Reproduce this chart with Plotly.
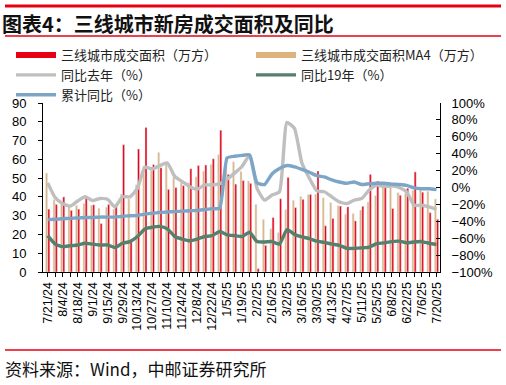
import plotly.graph_objects as go

weeks = ["7/21/24", "7/28/24", "8/4/24", "8/11/24", "8/18/24", "8/25/24", "9/1/24", "9/8/24",
         "9/15/24", "9/22/24", "9/29/24", "10/6/24", "10/13/24", "10/20/24", "10/27/24", "11/3/24",
         "11/10/24", "11/17/24", "11/24/24", "12/1/24", "12/8/24", "12/15/24", "12/22/24", "12/29/24",
         "1/5/25", "1/12/25", "1/19/25", "1/26/25", "2/2/25", "2/9/25", "2/16/25", "2/23/25",
         "3/2/25", "3/9/25", "3/16/25", "3/23/25", "3/30/25", "4/6/25", "4/13/25", "4/20/25",
         "4/27/25", "5/4/25", "5/11/25", "5/18/25", "5/25/25", "6/1/25", "6/8/25", "6/15/25",
         "6/22/25", "6/29/25", "7/6/25", "7/13/25", "7/20/25"]

area = [33.5, 36, 40, 32.8, 33.5, 40, 35.8, 25.8, 36, 35.5, 67.8, 17, 65.5, 77, 57.2, 55.5,
        44, 45, 46, 55, 56.7, 57, 60.3, 75.5, 52, 46.8, 48.7, 47.2, 1.8, 14.2, 29, 39,
        50.4, 34.3, 38.7, 41.3, 53.8, 24.6, 28.5, 35.1, 34.7, 27.2, 35, 52, 48.4, 45.8,
        33.8, 40.9, 44.6, 53.3, 42.5, 31.6, 28.1]

area_ma4 = [52.7, 38.5, 36.5, 35.5, 35.5, 36.5, 35.5, 34, 34.5, 33.5, 41.5, 39, 46.5, 56.5, 54, 63.7,
            58.5, 50.5, 47.5, 47.5, 50.7, 53.7, 57.3, 62.5, 61, 58.7, 53.5, 48.5, 36, 28, 23, 21,
            33.2, 38.2, 40.3, 41.2, 41.5, 39.5, 37, 35.3, 30.8, 31.2, 33, 37.3, 40.7, 45.5,
            45.2, 42.3, 41.8, 43.5, 44.5, 43, 38.9]

yoy_last = [5.5, -12, -19, -22, -16, -11, -15.5, -13, -14, -23, -11, -11, -1, 24, 22, 26,
            29, 13, 7, 1, -2, 3, 3, 4.5, 10, 17, 25, 38, -1, -15, -9, -5,
            77, 70, 29, 11, -4, -5, -11, -17, -19, -15, -13, -3, 3, 1,
            2, 0, -5, -21, -21, -23, -26]

yoy_2019 = [-57, -67, -70, -69, -68, -66, -67, -68, -68, -71, -66, -64, -58, -49, -47, -46,
            -49, -58, -61, -63, -61, -58, -57, -52, -56, -57, -58, -53, -64, -64.5, -64, -67,
            -50, -55.5, -58.5, -60.5, -63.5, -65, -67, -68.5, -72, -72, -71.5, -70.5, -66.5, -65.5,
            -64, -63.5, -65.5, -64.5, -64, -66, -67.5]

cum_yoy = [-38, -37.5, -37, -36.5, -36, -35.5, -35.5, -35, -35, -35, -34, -33.5, -33, -31.5, -30.5, -29.5,
           -29, -28.5, -28, -27.5, -27, -26, -25, -24.5, 35, 37, 38, 38.5, 5.5, 3.5, 16, 22.5,
           26, 24.5, 21.5, 18, 14, 12.5, 9, 6.5, 5, 6.5, 3.5, 4.5, 5, 5,
           4, 3.5, 2.5, -0.5, -1.5, -1.5, -2.5]

names = ["三线城市成交面积（万方）", "三线城市成交面积MA4（万方）", "同比去年（%）", "同比19年（%）", "累计同比（%）"]
colors = ["#E60012", "#DDB47E", "#BFBFBF", "#55806D", "#7DA5C6"]

x = list(range(len(weeks)))
tick_idx = x[::2]
tick_text = weeks[::2]

fig = go.Figure()
fig.add_trace(go.Bar(x=x, y=area_ma4, marker_color=colors[1], showlegend=False, yaxis="y"))
fig.add_trace(go.Bar(x=x, y=area, marker_color=colors[0], showlegend=False, yaxis="y"))

# legend proxies for bars
fig.add_trace(go.Scatter(x=[None], y=[None], mode="lines", name=names[0], legend="legend",
                         line=dict(color=colors[0], width=6)))
fig.add_trace(go.Scatter(x=[None], y=[None], mode="lines", name=names[1], legend="legend2",
                         line=dict(color=colors[1], width=6)))

for vals, nm, col, lg in [(yoy_last, names[2], colors[2], "legend"),
                          (yoy_2019, names[3], colors[3], "legend2"),
                          (cum_yoy, names[4], colors[4], "legend")]:
    fig.add_trace(go.Scatter(x=x, y=vals, mode="lines", name=nm, yaxis="y2", legend=lg,
                             line=dict(color=col, width=3.4, shape="spline", smoothing=0.5)))

tickfont = dict(family="Liberation Sans, Arial", size=13, color="#000000")
legfont = dict(family="Noto Sans CJK SC", size=13, color="#222222")

fig.update_layout(
    width=506, height=385,
    margin=dict(l=43, r=66, t=103, b=113, autoexpand=False),
    paper_bgcolor="white", plot_bgcolor="white",
    barmode="group", bargap=0.4, bargroupgap=0.1,
    showlegend=True,
    legend=dict(orientation="v", xref="container", yref="container",
                x=11/506, xanchor="left", y=1 - 40/385, yanchor="top",
                font=legfont, bgcolor="rgba(0,0,0,0)", itemwidth=40, tracegroupgap=0),
    legend2=dict(orientation="v", xref="container", yref="container",
                 x=251/506, xanchor="left", y=1 - 40/385, yanchor="top",
                 font=legfont, bgcolor="rgba(0,0,0,0)", itemwidth=40, tracegroupgap=0),
    xaxis=dict(range=[-0.63, 52.47], tickmode="array", tickvals=tick_idx, ticktext=tick_text,
               tickangle=-90, ticks="outside", ticklen=4, tickcolor="#000000",
               minor=dict(dtick=1, ticks="outside", ticklen=4, tickcolor="#000000"),
               showline=True, linecolor="#000000", linewidth=1, showgrid=False, zeroline=False,
               automargin=False,
               tickfont=dict(family="Liberation Sans, Arial", size=12.5, color="#000000")),
    yaxis=dict(range=[0, 90], dtick=10, ticks="outside", ticklen=4, tickcolor="#000000",
               showline=True, linecolor="#000000", linewidth=1, showgrid=False, zeroline=False,
               automargin=False, tickfont=tickfont, ticklabelstandoff=9),
    yaxis2=dict(range=[-100, 100], dtick=20, ticksuffix="%", overlaying="y", side="right",
                ticks="inside", ticklen=4, tickcolor="#000000",
                showline=True, linecolor="#000000", linewidth=1, showgrid=False, zeroline=False,
                automargin=False, tickfont=tickfont, ticklabelstandoff=8),
    font=dict(family="Noto Sans CJK SC"),
)

# title and decorative rules
fig.add_annotation(text="<b>图表4：三线城市新房成交面积及同比</b>", xref="paper", yref="paper",
                   x=-43/397, y=(272-23)/169, xanchor="left", yanchor="middle", showarrow=False,
                   font=dict(family="Noto Sans CJK SC", size=20, color="#111111"))
fig.add_annotation(text="资料来源：Wind，中邮证券研究所", xref="paper", yref="paper",
                   x=-40/397, y=(272-368)/169, xanchor="left", yanchor="middle", showarrow=False,
                   font=dict(family="Noto Sans CJK SC", size=17, color="#111111"))
for ypix, w in [(6, 3), (36, 1.5), (350, 1.5)]:
    fig.add_shape(type="line", xref="paper", yref="paper",
                  x0=(5-43)/397, x1=(501-43)/397, y0=(272-ypix)/169, y1=(272-ypix)/169,
                  line=dict(color="#E60012", width=w))

fig.write_html("out.html", config={"displayModeBar": False},
               post_script="document.body.style.margin='0';")
